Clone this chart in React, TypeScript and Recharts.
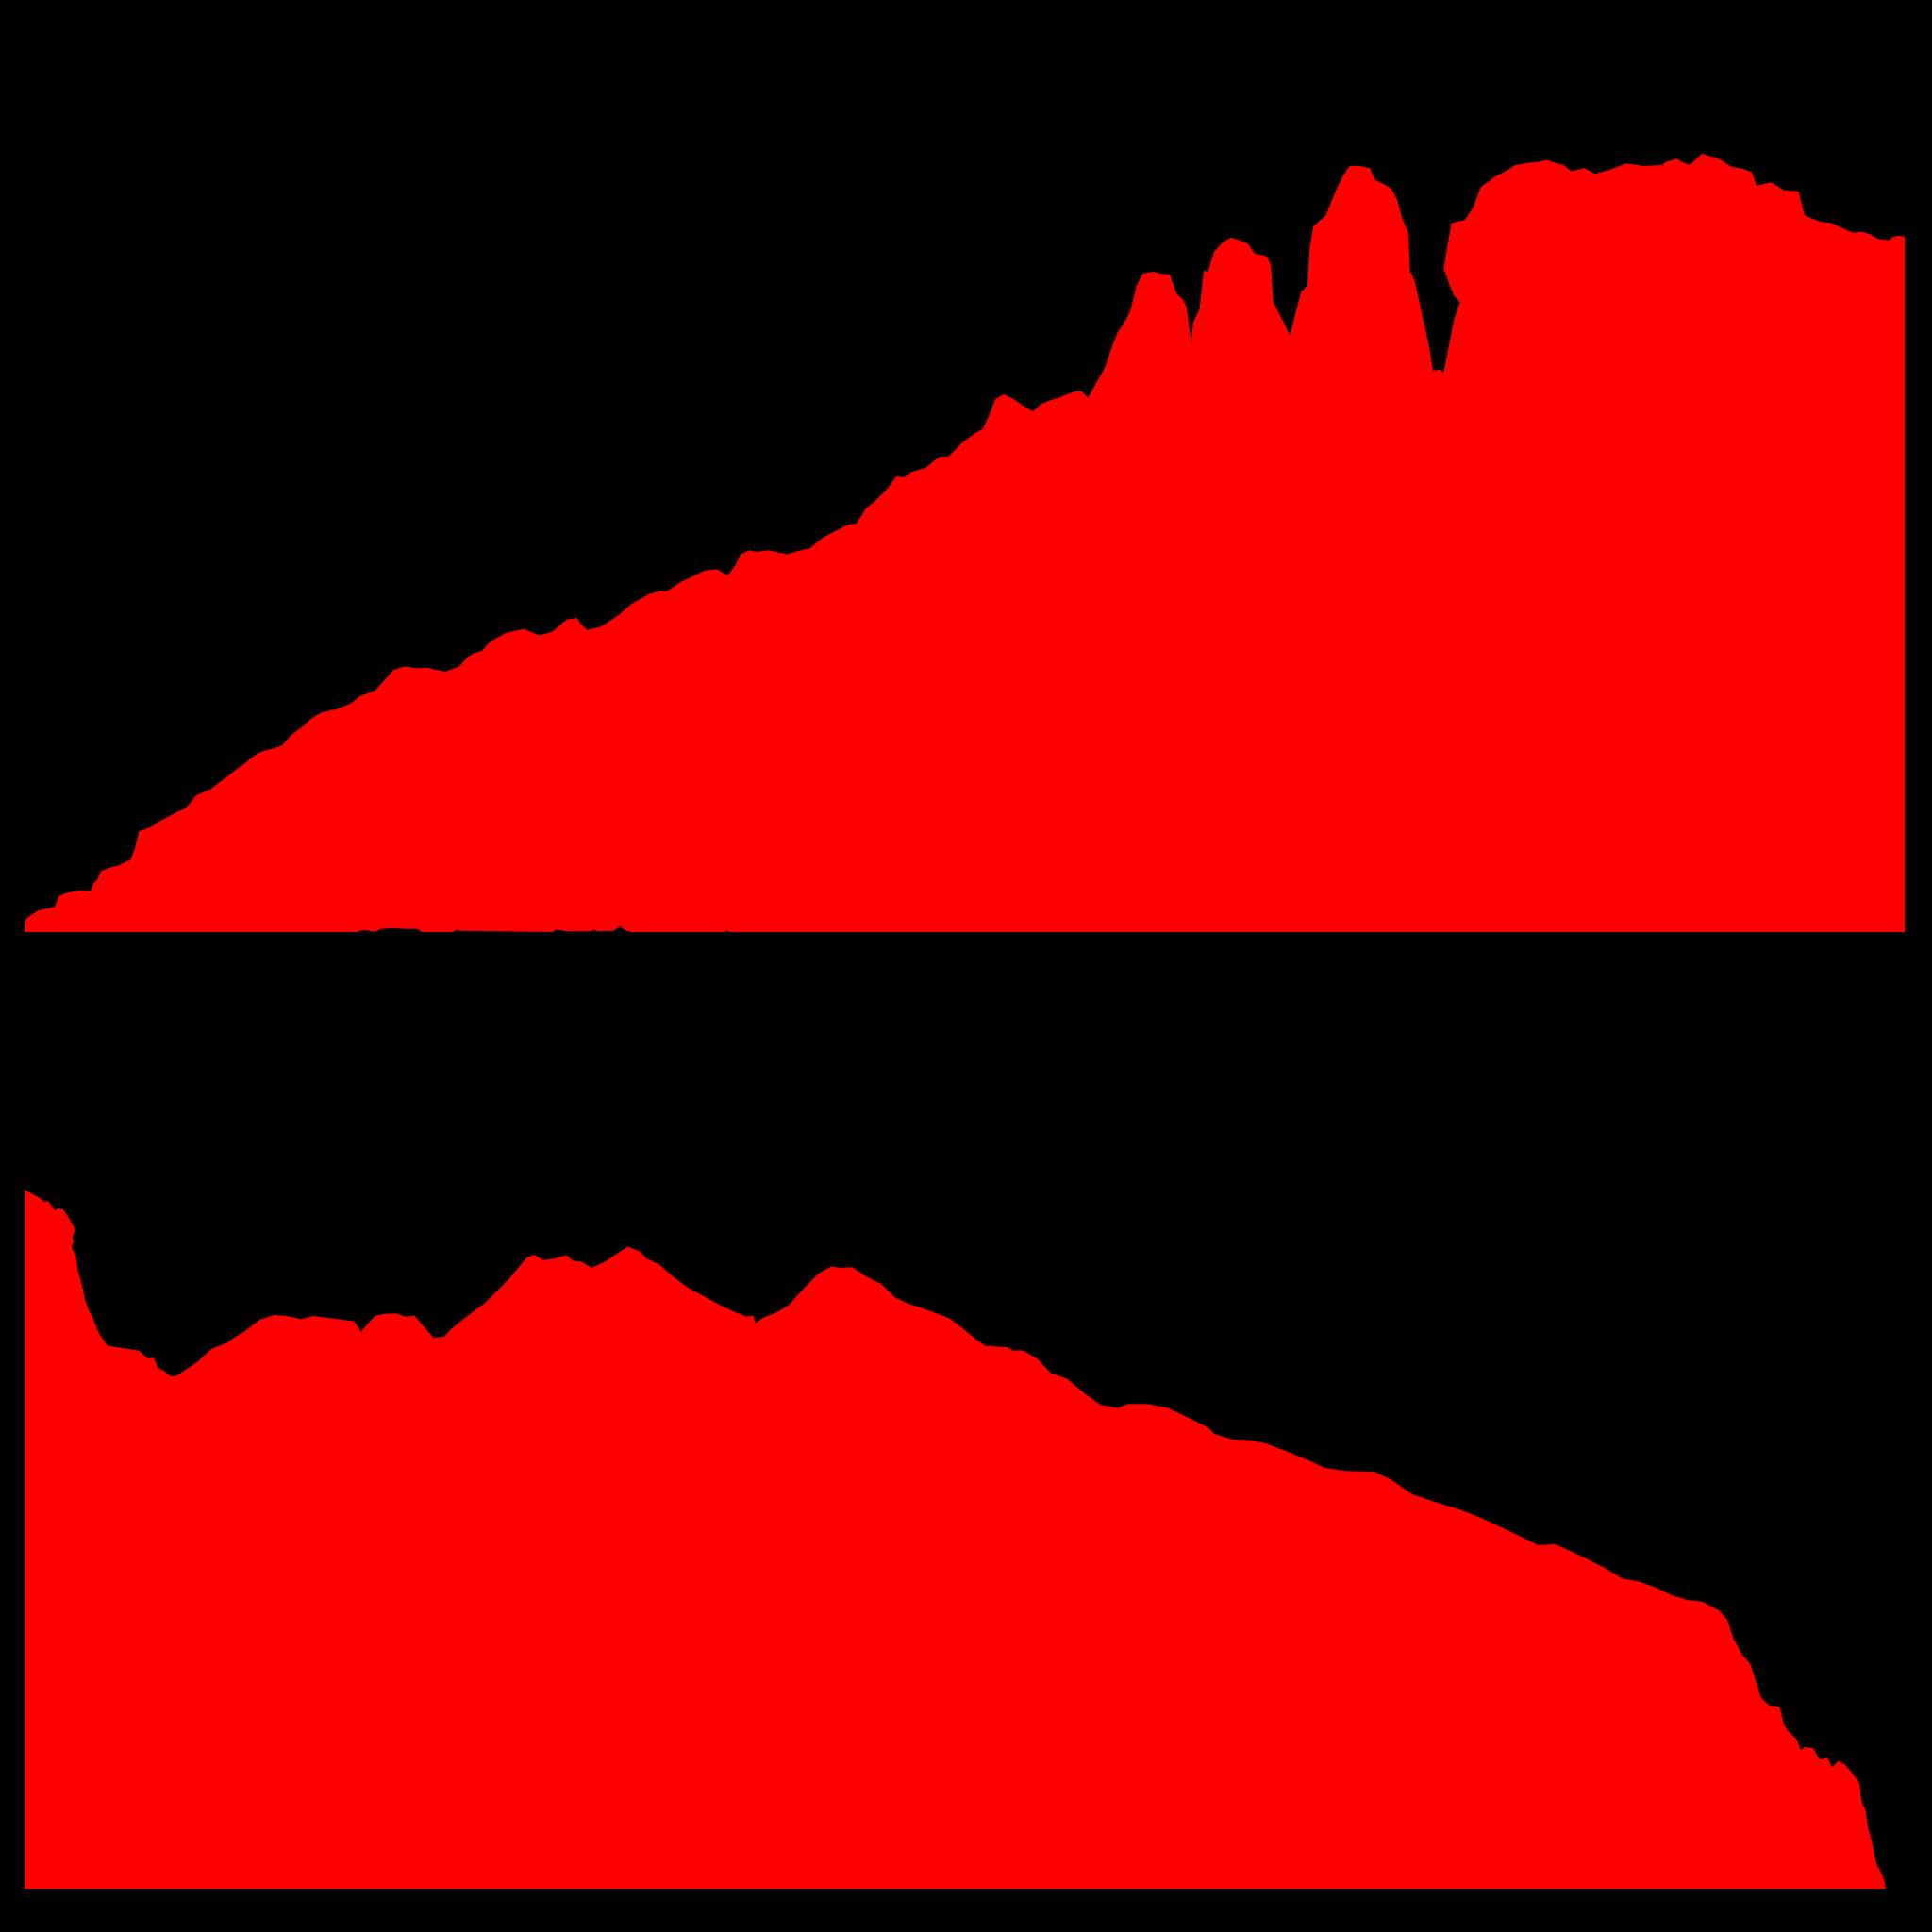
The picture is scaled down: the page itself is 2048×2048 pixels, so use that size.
import React from "react";
import { AreaChart, Area, XAxis, YAxis } from "recharts";

// Upper profile: position along the axis and height of the filled area
const topX = [
  19.9, 20.5, 25, 30.7, 38, 44.4, 47.9, 53, 59.8, 66, 73.5, 75.9, 79, 82, 90, 97.4, 101, 105.9, 109.4, 112.7,
  118, 123, 128, 134.9, 142, 150.4, 155, 159, 165, 170.8, 178, 184.6, 191, 198.3, 204, 210, 216, 222, 229, 235.9,
  241, 246, 252.8, 261.5, 267, 273.4, 280, 285.4, 292, 298, 304, 309.4, 314, 319.5, 325, 329.9, 338, 347, 355, 362,
  367, 372.6, 379.4, 385, 391.3, 396.5, 403, 410, 418, 425.6, 431, 437, 442, 447.8, 454, 459.7, 468.3, 472, 476.9, 482,
  487, 495, 502.4, 508, 512.7, 520, 526.4, 536, 541, 547, 553, 562, 572, 582, 590.7, 597.3, 601, 608, 614.7, 623,
  630, 638.6, 645, 650.5, 657.4, 667.7, 678, 688, 695, 703.5, 710, 719, 727.5, 734, 739.5, 751, 757, 763, 770, 780,
  790.7, 797.5, 802.5, 807.8, 814.7, 823, 830, 838.5, 845, 852, 859, 866, 873, 878, 883, 888, 892, 896.6, 902, 907,
  912, 917.3, 922.4, 927.4, 935.8, 942, 949.5, 955, 960, 963, 966.8, 968.5, 973.6, 977, 980.4, 985.5, 992, 999, 1006, 1013,
  1018, 1028.4, 1031.6, 1033.4, 1040, 1047, 1050.6, 1056, 1061, 1063, 1066, 1076, 1085, 1090, 1095, 1103, 1112, 1115.6, 1122, 1129,
  1134, 1138, 1143, 1144.5, 1148, 1153, 1160, 1163, 1168.5, 1171.7, 1175, 1180, 1185, 1180, 1171.7, 1178, 1189, 1195.6, 1202, 1214,
  1222, 1230, 1238, 1248, 1255, 1262, 1269, 1275.6, 1286, 1294.5, 1306, 1320, 1334, 1349, 1352, 1361, 1366, 1371.5, 1381.5, 1388,
  1395, 1405, 1415, 1422, 1425.7, 1437.6, 1448, 1459.8, 1463, 1465, 1477, 1487, 1492, 1504, 1511, 1517.6, 1524.5, 1533, 1537, 1541,
  1545.9,
];
const topH = [
  6.5, 9.9, 13.5, 17.5, 19, 20.5, 29.1, 31.5, 32.9, 34, 32.9, 39.5, 42.5, 49.5, 52.5, 54.5, 56.5, 58.5, 67.5, 81.5,
  83.5, 85.5, 89, 92.9, 96.5, 100.5, 105.5, 110.9, 113.5, 115.9, 121.5, 126.1, 131.5, 136.5, 141.5, 145.5, 147.5, 149.1, 151.5, 159.5,
  163.5, 166.9, 173.5, 178.5, 179.5, 180.9, 183.5, 186.1, 191.5, 193.5, 195.5, 201.5, 206.5, 212.9, 214.5, 215.5, 214, 214.5, 212.5, 211.5,
  213.5, 215.5, 223, 226.5, 228.2, 234.5, 238.5, 242.5, 244.5, 246, 243.5, 240.9, 242, 243.5, 248.5, 253.7, 255, 249.5, 245, 246.5,
  247.5, 252.5, 257.5, 262.5, 266.5, 270.5, 274.1, 277, 276.5, 280.5, 284.5, 288.5, 293.5, 294.5, 289.5, 298.5, 306.5, 309.9, 308.5, 309.9,
  308.5, 306.5, 308.5, 309.9, 311.5, 320.1, 325.5, 330.5, 331.5, 344.5, 349.5, 358.5, 369.8, 369, 373.5, 376.5, 381.5, 385.9, 385.9, 396.5,
  404.5, 408.1, 418.5, 432.5, 436.5, 432.5, 427.5, 422.5, 428.5, 431.5, 433.5, 436.5, 438.7, 438.7, 433.5, 442.5, 449.5, 457.9, 473.5, 486.5,
  493.8, 503.8, 524.5, 534.5, 535.9, 534.5, 533.5, 517.9, 513.5, 507.7, 478.5, 494.9, 505.5, 537, 535.9, 552.5, 559.5, 563.8, 561.5, 558.8,
  551, 548.5, 540.8, 511.5, 498.5, 484.5, 498.7, 519.5, 524.5, 554.9, 572.7, 581.8, 603.5, 613.5, 621.5, 622, 620, 611, 607.5, 603.5,
  594.5, 579.5, 567.5, 537, 529.5, 506.5, 475.5, 455.5, 456.5, 454, 470.7, 496.5, 511.5, 516.5, 538.5, 575.5, 577.9, 588, 604.7, 613.5,
  617.5, 622.5, 623.9, 625, 626.5, 624.5, 622.5, 617.5, 620, 615.5, 618.5, 623.9, 621.7, 622.5, 625, 627.7, 624.5, 622.5, 631.9, 629.5,
  627.7, 621.2, 619.5, 616.5, 605.9, 608.5, 602.1, 601, 588, 581.5, 576.5, 575.5, 572.7, 567.5, 568.5, 566.5, 562.5, 561.5, 564.5, 565,
  564.5,
];

// Small dark residue along the upper baseline
const residueX = [290, 293, 299, 302, 306, 309, 320, 330, 339, 342, 368, 370, 373, 400, 449, 451, 454, 460, 480, 482, 485, 498, 503, 507, 512, 588, 590, 592];
const residueH = [0, 1.3, 1.3, 0, 1, 2.5, 3, 2.5, 2.5, 0, 0, 2, 1, 0.5, 0, 2, 1.5, 0.5, 0.5, 2, 0.5, 1, 4.6, 1.5, 0, 0, 1, 0];

// Lower profile
const bottomX = [
  19.9, 22.2, 27.4, 32.5, 35.9, 39.3, 44.4, 48, 51.3, 54.7, 58.1, 60.9, 58.8, 59.8, 58.1, 61.5, 63.2, 66.7, 69, 71.8,
  75.2, 80.3, 87.2, 95.7, 104.3, 112.8, 119.7, 124.8, 128.2, 133.3, 138.5, 143.6, 152, 160.7, 166, 172.6, 184.6, 191, 198.3, 210.3,
  222.2, 232.5, 244.4, 254.7, 264, 273.5, 287.2, 293.3, 298, 304.3, 312, 321.4, 328.2, 336.8, 344, 352.1, 360.7, 365.8, 376.1, 393.2,
  405.1, 413.7, 427.4, 433.5, 441, 447.9, 459.8, 465, 471.8, 480.3, 492.3, 500, 509.4, 519.7, 524.8, 534.4, 546.3, 558.3, 572, 584,
  597.6, 606.2, 611.3, 613, 619.8, 630.1, 640.4, 650.6, 664.3, 674.5, 681.4, 691.6, 701.9, 715.6, 725.8, 736.1, 746, 756.6, 770.3, 780.5,
  790.8, 799.3, 818.1, 821.6, 830.1, 842.1, 852.3, 866, 881.4, 893.3, 907, 915.6, 931, 948, 965.2, 980.5, 985.7, 999.3, 1013, 1026.7,
  1043.8, 1064.4, 1074.6, 1091.6, 1115.5, 1129.1, 1146.2, 1163.2, 1183.7, 1200.7, 1217.7, 1238.2, 1248.4, 1262.1, 1272.3, 1287.6, 1303, 1316.6, 1330.2, 1343.8,
  1357.5, 1369.4, 1381.3, 1395, 1401.8, 1406.9, 1413.7, 1420.5, 1425.7, 1429.1, 1435.9, 1444.4, 1447.8, 1451.2, 1458, 1461.5, 1464.9, 1471.7, 1476.8, 1483.6,
  1487, 1492.1, 1497.2, 1504, 1509.2, 1510.9, 1514.3, 1516, 1519.4, 1522.8, 1526.2, 1529.6, 1530.3,
];
const bottomH = [
  566.9, 566.1, 563.1, 560.5, 557.5, 558, 550.8, 552, 551.1, 546.5, 540.1, 535, 528.6, 524.8, 521, 513.3, 501.8, 489, 478, 470,
  463.5, 450.8, 440.6, 439.3, 438, 436.7, 430.4, 430.9, 422.7, 420.2, 415.6, 416.3, 422, 427.8, 433, 438.5, 443.1, 448, 452, 461.5,
  465.6, 464.8, 462.3, 464.8, 463.5, 462.3, 460.5, 452, 458, 464.8, 466.5, 466.9, 464.3, 464.8, 456, 446.9, 448.2, 453.8, 462.3, 475,
  486.5, 495.4, 512, 514.6, 510.2, 510.8, 514.1, 509.5, 508.7, 503.9, 509.5, 515, 521, 517.1, 511.3, 507, 496.8, 487.8, 480.2, 473.8,
  467.4, 464.1, 464.9, 459, 463.6, 467.4, 473.8, 485.3, 499.3, 504.9, 503.9, 504.4, 497.5, 490.4, 480.2, 475.1, 472, 468.2, 463.1, 455.4,
  447, 440.6, 439.3, 436.8, 436.8, 429.9, 418.9, 413.8, 401.1, 392.6, 390.1, 393.4, 393.4, 390.1, 381.9, 374.2, 369.1, 364.8, 364, 361.5,
  355.1, 346.7, 341.6, 339, 338.5, 332, 320.1, 314.4, 307.9, 301.5, 293.7, 283.9, 278.7, 279.5, 275, 267.8, 260, 251.8, 249.2, 244.5,
  238, 234.2, 232.9, 225.9, 218.6, 203.1, 190.2, 182.4, 166.9, 155.2, 148.8, 147.5, 133.2, 128, 121.6, 112.5, 115.1, 113.8, 104.8, 106,
  98.3, 103.5, 100.9, 93.1, 85.4, 71.1, 63.4, 50.4, 37.5, 20.7, 14.2, 6.4, 0,
];

const xDomain: [number, number] = [19.9, 1545.9];

const topData = topX.map((x, i) => ({ x, h: topH[i] }));
const residueData = residueX.map((x, i) => ({ x, h: residueH[i] }));
const bottomData = bottomX.map((x, i) => ({ x, h: bottomH[i] }));

type PanelProps = {
  data: { x: number; h: number }[];
  height: number;
  bottom: number;
  yMax: number;
  fill: string;
};

function Panel({ data, height, bottom, yMax, fill }: PanelProps) {
  return (
    <AreaChart width={2048} height={height} data={data} margin={{ top: 0, right: 29, bottom, left: 26 }}>
      <XAxis type="number" dataKey="x" domain={xDomain} allowDataOverflow hide />
      <YAxis type="number" domain={[0, yMax]} allowDataOverflow hide />
      <Area
        type="linear"
        dataKey="h"
        stroke="none"
        fill={fill}
        fillOpacity={1}
        dot={false}
        activeDot={false}
        isAnimationActive={false}
      />
    </AreaChart>
  );
}

export default function App() {
  return (
    <div style={{ position: "absolute", left: 0, top: 0, width: 2048, height: 2048, background: "#000", overflow: "hidden" }}>
      <div style={{ position: "absolute", left: 0, top: 0 }}>
        <Panel data={topData} height={1000} bottom={12} yMax={756.5} fill="#ff0000" />
      </div>
      <div style={{ position: "absolute", left: 0, top: 0 }}>
        <Panel data={residueData} height={1000} bottom={12} yMax={756.5} fill="#000000" />
      </div>
      <div style={{ position: "absolute", left: 0, top: 1000 }}>
        <Panel data={bottomData} height={1048} bottom={46} yMax={767.2} fill="#ff0000" />
      </div>
    </div>
  );
}
